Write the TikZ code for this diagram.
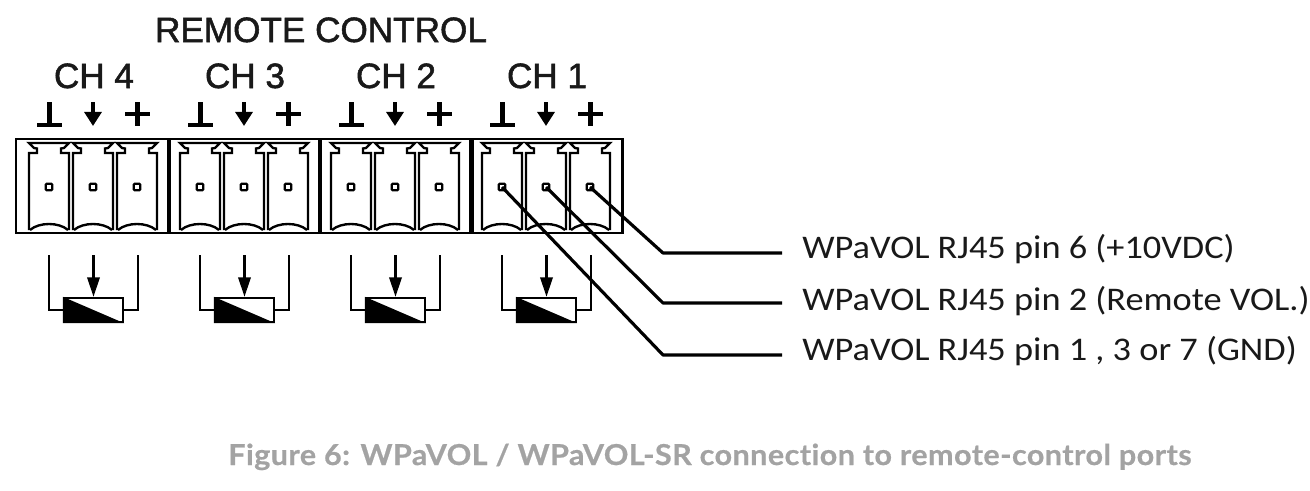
\documentclass[tikz,border=0pt]{standalone}
\usepackage{fontspec}
\setmainfont{Liberation Sans}
\newfontfamily\headfont[FakeBold=1.5]{Liberation Sans}
\newfontfamily\lblfont[FakeStretch=1.10]{Carlito}
\newfontfamily\capfont[FakeStretch=1.06,FakeBold=0.6,LetterSpace=1.5,Ligatures=NoCommon]{Lato Bold}
\usetikzlibrary{arrows.meta}
\definecolor{capgrey}{HTML}{A3A3A3}
\tikzstyle{heading}  = [anchor=base, inner sep=0pt, font=\headfont\fontsize{20pt}{22pt}\selectfont, text=black!90]
\tikzstyle{wirelbl}  = [anchor=base west, inner sep=0pt, font=\lblfont\fontsize{18.8pt}{20pt}\selectfont, text=black!90]
\tikzstyle{pinsq}    = [draw=black, line width=1.2pt, rounded corners=0.5pt, fill=white, minimum size=0.13cm, inner sep=0pt]
\tikzstyle{potbox}   = [draw=black, line width=1.4pt, fill=white, minimum width=1.18cm, minimum height=0.48cm, inner sep=0pt]
\tikzstyle{cellline} = [line width=1.35pt, line join=miter]
\tikzstyle{potline}  = [line width=1.4pt]
\tikzstyle{symline}  = [line width=2.4pt]
\tikzstyle{wire}     = [line width=1.8pt, line join=round]

\begin{document}
\begin{tikzpicture}[x=0.02cm,y=-0.02cm]
        \useasboundingbox (0,0) rectangle (1310,490);

        \node[heading] (title) at (321,42) {REMOTE CONTROL};

        % connector body
        \draw[line width=1.7pt] (16,139) rectangle (622,233);
        \fill (166.5,139) rectangle (171,233);
        \fill (317.5,139) rectangle (322,233);
        \fill (469,139) rectangle (473.5,233);

        % one channel at a time
        \foreach \ch/\gx in {4/0,3/151,2/302,1/453} {
            \node[heading] (ch\ch) at (94+\gx,88) {CH \ch};

            % ground, wiper and plus signs
            \draw[symline] (37+\gx,125) -- (62+\gx,125);
            \draw[symline] (49.5+\gx,102) -- (49.5+\gx,125);
            \draw[symline,-{Triangle[length=8pt,width=9.6pt]}] (93+\gx,102) -- (93+\gx,126);
            \draw[symline] (125+\gx,114) -- (150+\gx,114);
            \draw[symline] (137.5+\gx,102) -- (137.5+\gx,126);

            % the three cells
            \foreach \cx/\t in {49/g,93/w,137/p} {
                \begin{scope}[shift={(\cx+\gx,0)}]
                    \draw[cellline] (-20,230) -- (-20,153) -- (-12,153) -- (-12,148.5) -- (-15,148) -- (-20,143) -- (20,143) -- (15,148) -- (12,148.5) -- (12,153) -- (20,153) -- (20,230);
                    \draw[cellline] (-19,230) .. controls (-10,222) and (10,222) .. (19,230);
                \end{scope}
                \node[pinsq] (pin\ch\t) at (\cx+\gx,187) {};
            }

            % potentiometer
            \node[potbox] (pot\ch) at (93.5+\gx,310) {};
            \fill (pot\ch.north west) -- (pot\ch.south east) -- (pot\ch.south west) -- cycle;
            \coordinate (potl\ch) at (49+\gx,255);
            \coordinate (potm\ch) at (93.5+\gx,255);
            \coordinate (potr\ch) at (138+\gx,255);
            \draw[potline] (potl\ch) |- (pot\ch.west);
            \draw[potline] (potr\ch) |- (pot\ch.east);
            \draw[potline,-{Triangle[length=11pt,width=7pt]}] (potm\ch) -- (pot\ch.north);
        }

        % wires to the RJ45 pins
        \coordinate (bendp) at (663,253);
        \coordinate (bendw) at (663,303);
        \coordinate (bendg) at (663,355);
        \coordinate (endp) at (782,253);
        \coordinate (endw) at (782,303);
        \coordinate (endg) at (782,355);
        \draw[wire] (pin1p.center) -- (bendp) -- (endp);
        \draw[wire] (pin1w.center) -- (bendw) -- (endw);
        \draw[wire] (pin1g.center) -- (bendg) -- (endg);

        \node[wirelbl] (lblp) at (802,258) {WPaVOL RJ45 pin 6 (+10VDC)};
        \node[wirelbl] (lblw) at (802,310) {WPaVOL RJ45 pin 2 (Remote VOL.)};
        \node[wirelbl] (lblg) at (802,360) {WPaVOL RJ45 pin 1 , 3 or 7 (GND)};

        \node[anchor=base west, inner sep=0pt, text=capgrey, font=\capfont\fontsize{16.4pt}{18pt}\selectfont] (caption) at (228,465) {Figure 6: WPaVOL / WPaVOL-SR connection to remote-control ports};
    \end{tikzpicture}
\end{document}
